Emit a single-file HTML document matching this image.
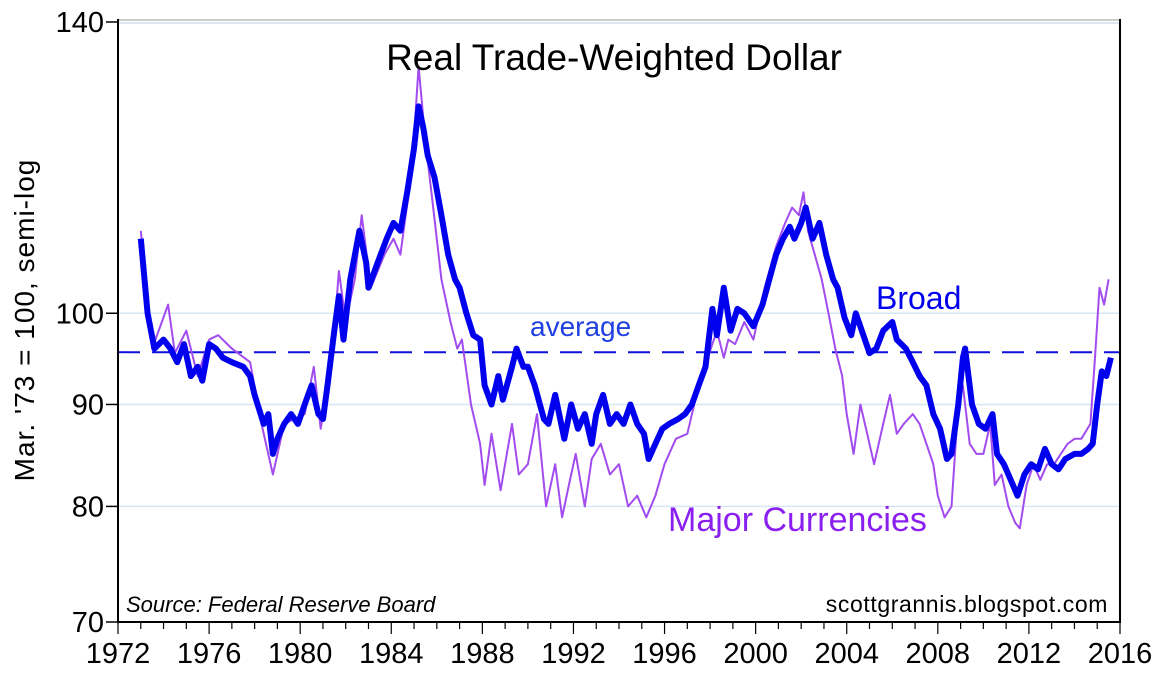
<!DOCTYPE html>
<html><head><meta charset="utf-8"><style>
body{margin:0;background:#fff;}
svg{display:block;font-family:"Liberation Sans",sans-serif;}
</style></head><body>
<svg id="chart" width="1154" height="678" viewBox="0 0 1154 678">
<rect width="1154" height="678" fill="#fff"/>
<g id="grid"></g>
<g id="axes"></g>
<g id="series"></g>
<text x="614" y="70" font-size="37" text-anchor="middle" fill="#000">Real Trade-Weighted Dollar</text>
<text x="530" y="336" font-size="28" fill="#1f3fe0">average</text>
<text x="876" y="309" font-size="32" fill="#0000ee">Broad</text>
<text x="668" y="531" font-size="34" fill="#8a1ff0">Major Currencies</text>
<text x="126" y="612" font-size="22" font-style="italic" fill="#000">Source: Federal Reserve Board</text>
<text x="1108" y="612" font-size="23" letter-spacing="0.6" text-anchor="end" fill="#000">scottgrannis.blogspot.com</text>
<text transform="translate(34,320) rotate(-90)" font-size="28" letter-spacing="1" text-anchor="middle" fill="#000">Mar. '73 = 100, semi-log</text>
</svg>
<script>
const yTicks=[70,80,90,100,140];
const gridVals=[80,90,100];
const xTickYears=[1972,1976,1980,1984,1988,1992,1996,2000,2004,2008,2012,2016];
const averageValue=95.6;
const broadYears=[1973.0,1973.3,1973.6,1974.0,1974.3,1974.6,1974.9,1975.2,1975.5,1975.7,1976.0,1976.3,1976.6,1977.0,1977.5,1977.8,1978.0,1978.4,1978.6,1978.8,1979.0,1979.3,1979.6,1979.9,1980.2,1980.5,1980.8,1981.0,1981.2,1981.5,1981.7,1981.9,1982.2,1982.6,1982.9,1983.0,1983.4,1983.8,1984.1,1984.4,1984.7,1985.0,1985.2,1985.4,1985.6,1985.9,1986.2,1986.5,1986.8,1987.0,1987.3,1987.6,1987.9,1988.1,1988.4,1988.7,1988.9,1989.3,1989.5,1989.8,1990.0,1990.3,1990.7,1990.9,1991.2,1991.6,1991.9,1992.2,1992.5,1992.8,1993.0,1993.3,1993.6,1993.9,1994.2,1994.5,1994.8,1995.1,1995.3,1995.6,1995.9,1996.2,1996.6,1996.9,1997.2,1997.5,1997.8,1998.1,1998.3,1998.6,1998.9,1999.2,1999.5,1999.9,2000.3,2000.6,2000.9,2001.2,2001.5,2001.7,2002.0,2002.2,2002.5,2002.8,2003.1,2003.4,2003.6,2003.9,2004.2,2004.4,2004.8,2005.0,2005.3,2005.6,2006.0,2006.2,2006.6,2006.9,2007.2,2007.5,2007.8,2008.1,2008.4,2008.6,2008.9,2009.1,2009.2,2009.5,2009.8,2010.1,2010.4,2010.6,2010.9,2011.2,2011.5,2011.8,2012.1,2012.4,2012.7,2013.0,2013.3,2013.6,2014.0,2014.3,2014.6,2014.8,2015.0,2015.2,2015.4,2015.6];
const broadValues=[109,100,96,97,96,94.5,96.5,93,94,92.5,96.5,96,95,94.5,94,93,91,88,89,85,86.5,88,89,88,90,92,89,88.5,92,98,102,97,104,110,106,103,106,109,111,110,115,121,127,124,120,117,112,107,104,103,100,97.5,97,92,90,93,90.5,94,96,94,94,92,88.5,88,91,86.5,90,87.5,89,86,89,91,88,89,88,90,88,87,84.5,86,87.5,88,88.5,89,90,92,94,100.5,97.5,103,98,100.5,100,98.5,101,104,107,109,110.5,109,111,113,109,111,107,104,103,99.5,97.5,100,97,95.5,96,98,99,97,96,94.5,93,92,89,87.5,84.5,85,90,95,96,90,88,87.5,89,85,84,82.5,81,83,84,83.5,85.5,84,83.5,84.5,85,85,85.5,86,90,93.5,93,95];
const majorYears=[1973.0,1973.5,1974.2,1974.5,1975.0,1975.5,1976.0,1976.4,1977.0,1977.8,1978.3,1978.8,1979.3,1980.2,1980.6,1980.9,1981.4,1981.7,1982.0,1982.4,1982.7,1983.1,1983.7,1984.1,1984.4,1984.9,1985.2,1985.5,1985.8,1986.2,1986.6,1986.9,1987.1,1987.5,1987.9,1988.1,1988.4,1988.8,1989.3,1989.6,1990.0,1990.4,1990.8,1991.2,1991.5,1991.8,1992.1,1992.5,1992.8,1993.2,1993.6,1994.0,1994.4,1994.8,1995.2,1995.6,1996.0,1996.5,1997.0,1997.5,1997.9,1998.3,1998.6,1998.8,1999.1,1999.5,1999.9,2000.4,2000.9,2001.3,2001.6,2001.9,2002.1,2002.3,2002.6,2002.9,2003.2,2003.5,2003.8,2004.0,2004.3,2004.6,2004.9,2005.2,2005.6,2005.9,2006.2,2006.5,2006.9,2007.2,2007.5,2007.8,2008.0,2008.3,2008.6,2008.9,2009.1,2009.4,2009.7,2010.0,2010.3,2010.5,2010.8,2011.1,2011.4,2011.6,2011.9,2012.2,2012.5,2012.8,2013.1,2013.4,2013.7,2014.0,2014.3,2014.7,2014.9,2015.1,2015.3,2015.5];
const majorValues=[110,96,101,95.5,98,93,97,97.5,96,94.5,88,83,88,89,94,87.5,95,105,99,104,112,103,107,109,107,118,133,122,114,104,99,96,97,90,86,82,87,81.5,88,83,84,89,80,84,79,82,85,80,84.5,86,83,84,80,81,79,81,84,86.5,87,92,95,98,95,97,96.5,99,97,103,108,111,113,112,115,110,107,104,100,96,93,89,85,90,87,84,88,91,87,88,89,88,86,84,81,79,80,90,92,86,85,85,88,82,83,80,78.5,78,82,84,82.5,84,84,85,86,86.5,86.5,88,95,103,101,104];

const NS='http://www.w3.org/2000/svg';
const L=118,R=1120,T=22,B=622;
function xs(yr){return L+(yr-1972)/(2016-1972)*(R-L);}
function ys(v){return B-Math.log(v/70)/Math.log(140/70)*(B-T);}
function mk(tag,attrs,parent){const e=document.createElementNS(NS,tag);for(const k in attrs)e.setAttribute(k,attrs[k]);parent.appendChild(e);return e;}
const grid=document.getElementById('grid'),axes=document.getElementById('axes'),series=document.getElementById('series');
gridVals.forEach(v=>{const g=mk('line',{x1:L,x2:R,y1:ys(v),y2:ys(v),stroke:'#d6e6f5','stroke-width':1.5},grid);

});
const topA=mk('line',{x1:L,x2:R,y1:T-2,y2:T-2,stroke:'#999','stroke-width':1},grid);


const topB=mk('line',{x1:L,x2:R,y1:T+1,y2:T+1,stroke:'#bcd','stroke-width':1},grid);


const avg=mk('line',{x1:L,x2:R,y1:ys(averageValue),y2:ys(averageValue),stroke:'#1010dd','stroke-width':2,'stroke-dasharray':'22,12'},grid);


const la=mk('line',{x1:L,x2:L,y1:T-3,y2:B+1,stroke:'#000','stroke-width':2},axes);


const ra=mk('line',{x1:R,x2:R,y1:T-3,y2:B+1,stroke:'#000','stroke-width':2},axes);


const ba=mk('line',{x1:L,x2:R,y1:B,y2:B,stroke:'#000','stroke-width':2},axes);


yTicks.forEach(v=>{const y=ys(v);
const t=mk('line',{x1:L-12,x2:L,y1:y,y2:y,stroke:'#000','stroke-width':1.5},axes);


const tx=mk('text',{x:L-14,y:y+10,'font-size':29,'text-anchor':'end',fill:'#000'},axes);tx.textContent=v;

});
for(let yr=1972;yr<=2016;yr++){const big=(yr%4===0);
const t=mk('line',{x1:xs(yr),x2:xs(yr),y1:B,y2:B+(big?12:7),stroke:'#000','stroke-width':1.2},axes);

}
xTickYears.forEach(yr=>{const tx=mk('text',{x:xs(yr),y:B+41,'font-size':29,'text-anchor':'middle',fill:'#000'},axes);tx.textContent=yr;

});
function path(xsArr,vals){return xsArr.map((yr,i)=>(i?'L':'M')+xs(yr).toFixed(1)+','+ys(vals[i]).toFixed(1)).join('');}
const pm=mk('path',{d:path(majorYears,majorValues),fill:'none',stroke:'#a24cf0','stroke-width':2,'stroke-linejoin':'round'},series);


const pb=mk('path',{d:path(broadYears,broadValues),fill:'none',stroke:'#0000ee','stroke-width':6,'stroke-linejoin':'round'},series);


</script>
</body></html>
